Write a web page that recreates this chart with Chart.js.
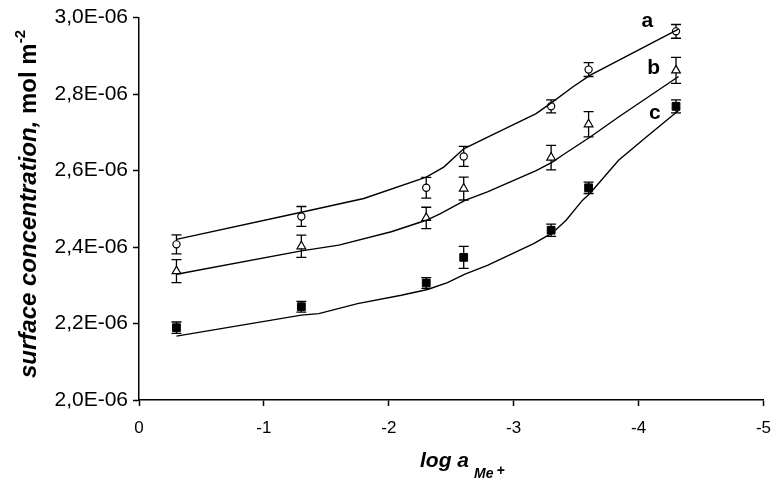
<!DOCTYPE html>
<html>
<head>
<meta charset="utf-8">
<script src="https://cdn.jsdelivr.net/npm/chart.js@4/dist/chart.umd.min.js"></script>
<style>
  html, body { margin: 0; padding: 0; background: #fff; }
  #wrap { width: 783px; height: 486px; }
</style>
</head>
<body>
<div id="wrap"><canvas id="chart"></canvas></div>
<script>
// measured points (x = log a, y in units of 1E-06 mol m-2)
const xVals = [-0.3, -1.3, -2.3, -2.6, -3.3, -3.6, -4.3];
const aVals = [2.407, 2.480, 2.555, 2.637, 2.768, 2.864, 2.964];
const aErr  = [0.025, 0.026, 0.027, 0.026, 0.017, 0.018, 0.018];
const bVals = [2.337, 2.402, 2.476, 2.553, 2.634, 2.721, 2.862];
const bErr  = [0.030, 0.029, 0.028, 0.030, 0.032, 0.033, 0.034];
const cVals = [2.189, 2.244, 2.306, 2.373, 2.444, 2.555, 2.768];
const cErr  = [0.015, 0.014, 0.014, 0.029, 0.016, 0.015, 0.017];

// model curves
const aLineX = [-0.3, -1.3, -1.8, -2.3, -2.44, -2.6, -2.87, -3.18, -3.31, -3.47, -3.61, -4.32];
const aLineY = [2.420, 2.491, 2.527, 2.583, 2.609, 2.657, 2.700, 2.749, 2.779, 2.818, 2.849, 2.970];
const bLineX = [-0.3, -1.3, -1.6, -2.02, -2.3, -2.41, -2.61, -2.79, -3.18, -3.31, -3.39, -3.61, -3.84, -4.32];
const bLineY = [2.329, 2.390, 2.405, 2.440, 2.470, 2.487, 2.522, 2.544, 2.600, 2.622, 2.640, 2.687, 2.740, 2.846];
const cLineX = [-0.3, -1.3, -1.44, -1.75, -2.1, -2.31, -2.47, -2.61, -2.79, -3.16, -3.31, -3.42, -3.55, -3.61, -3.84, -4.06, -4.32];
const cLineY = [2.167, 2.222, 2.226, 2.252, 2.274, 2.289, 2.307, 2.329, 2.352, 2.409, 2.437, 2.470, 2.522, 2.540, 2.627, 2.687, 2.757];

const curveLabels = ["a", "b", "c"];
const labelX = [-4.07, -4.12, -4.13];
const labelY = [2.997, 2.874, 2.757];

const yTicks = [2.0, 2.2, 2.4, 2.6, 2.8, 3.0];

const pts = (xs, ys) => xs.map((x, i) => ({ x: x, y: ys[i] }));

const lineStyle = {
  type: "line", showLine: true, pointRadius: 0, borderColor: "#000",
  borderWidth: 1.4, fill: false, tension: 0
};

// error bars drawn under the markers
const errorBars = {
  id: "errorBars",
  beforeDatasetsDraw(chart) {
    const ctx = chart.ctx;
    const xs = chart.scales.x, ys = chart.scales.y;
    const sets = [[aVals, aErr], [bVals, bErr], [cVals, cErr]];
    ctx.save();
    ctx.strokeStyle = "#000";
    ctx.lineWidth = 1.3;
    sets.forEach(([vals, errs]) => {
      vals.forEach((v, i) => {
        const px = xs.getPixelForValue(xVals[i]);
        const top = ys.getPixelForValue(v + errs[i]);
        const bot = ys.getPixelForValue(v - errs[i]);
        ctx.beginPath();
        ctx.moveTo(px, top); ctx.lineTo(px, bot);
        ctx.moveTo(px - 5, top); ctx.lineTo(px + 5, top);
        ctx.moveTo(px - 5, bot); ctx.lineTo(px + 5, bot);
        ctx.stroke();
      });
    });
    ctx.restore();
  }
};

// axis titles and curve letters
const texts = {
  id: "texts",
  afterDraw(chart) {
    const ctx = chart.ctx;
    const xs = chart.scales.x, ys = chart.scales.y;
    ctx.save();
    ctx.fillStyle = "#000";
    ctx.textBaseline = "alphabetic";

    ctx.font = "bold 21px Arial, 'Liberation Sans'";
    ctx.textAlign = "center";
    curveLabels.forEach((t, i) => {
      ctx.fillText(t, xs.getPixelForValue(labelX[i]), ys.getPixelForValue(labelY[i]) + 8);
    });

    // x title: log a Me+
    ctx.textAlign = "left";
    const f1 = "italic bold 21px Arial, 'Liberation Sans'";
    const f2 = "italic bold 14px Arial, 'Liberation Sans'";
    let x0 = 420;
    ctx.font = f1;
    ctx.fillText("log a", x0, 467);
    x0 += ctx.measureText("log a").width + 5;
    ctx.font = f2;
    ctx.fillText("Me", x0, 478);
    x0 += ctx.measureText("Me").width + 3;
    ctx.fillText("+", x0, 475);

    // y title: surface concentration, mol m-2
    const p1 = "surface concentration,";
    const p2 = " mol m";
    const p3 = "-2";
    const g1 = "italic bold 24px Arial, 'Liberation Sans'";
    const g2 = "bold 24px Arial, 'Liberation Sans'";
    const g3 = "bold 15px Arial, 'Liberation Sans'";
    ctx.font = g1; const w1 = ctx.measureText(p1).width;
    ctx.font = g2; const w2 = ctx.measureText(p2).width;
    ctx.font = g3; const w3 = ctx.measureText(p3).width;
    const total = w1 + w2 + w3;
    ctx.translate(36, 204);
    ctx.rotate(-Math.PI / 2);
    let s = -total / 2;
    ctx.font = g1; ctx.fillText(p1, s, 0); s += w1;
    ctx.font = g2; ctx.fillText(p2, s, 0); s += w2;
    ctx.font = g3; ctx.fillText(p3, s, -11);
    ctx.restore();
  }
};

new Chart(document.getElementById("chart"), {
  type: "scatter",
  data: {
    datasets: [
      Object.assign({ data: pts(aLineX, aLineY) }, lineStyle),
      Object.assign({ data: pts(bLineX, bLineY) }, lineStyle),
      Object.assign({ data: pts(cLineX, cLineY) }, lineStyle),
      {
        data: pts(xVals, aVals), pointStyle: "circle", pointRadius: 3.6,
        pointBackgroundColor: "#fff", pointBorderColor: "#000", pointBorderWidth: 1.2
      },
      {
        data: pts(xVals, bVals), pointStyle: "triangle", pointRadius: 5,
        pointBackgroundColor: "#fff", pointBorderColor: "#000", pointBorderWidth: 1.2
      },
      {
        data: pts(xVals, cVals), pointStyle: "rect", pointRadius: 5.5,
        pointBackgroundColor: "#000", pointBorderColor: "#000", pointBorderWidth: 1
      }
    ]
  },
  options: {
    responsive: true,
    maintainAspectRatio: false,
    animation: false,
    layout: { padding: { left: 0, right: 14, top: 17, bottom: 0 } },
    plugins: { legend: { display: false }, tooltip: { enabled: false } },
    scales: {
      x: {
        type: "linear", min: -5, max: 0, reverse: true,
        afterFit(scale) { scale.height = 86; },
        ticks: {
          stepSize: 1, color: "#000", padding: 12,
          font: { family: "Arial, 'Liberation Sans'", size: 17 },
          callback: (v) => String(v)
        },
        grid: { drawOnChartArea: false, drawTicks: true, tickLength: 6, tickColor: "#000", tickWidth: 1.5 },
        border: { display: true, color: "#000", width: 1.5 }
      },
      y: {
        type: "linear", min: 2.0, max: 3.0,
        afterFit(scale) { scale.width = 139; },
        afterBuildTicks(scale) { scale.ticks = yTicks.map(v => ({ value: v })); },
        ticks: {
          color: "#000", padding: 5,
          font: { family: "Arial, 'Liberation Sans'", size: 21 },
          callback: (v) => v.toFixed(1).replace(".", ",") + "E-06"
        },
        grid: { drawOnChartArea: false, drawTicks: true, tickLength: 6, tickColor: "#000", tickWidth: 1.5 },
        border: { display: true, color: "#000", width: 1.5 }
      }
    }
  },
  plugins: [errorBars, texts]
});
</script>
</body>
</html>
